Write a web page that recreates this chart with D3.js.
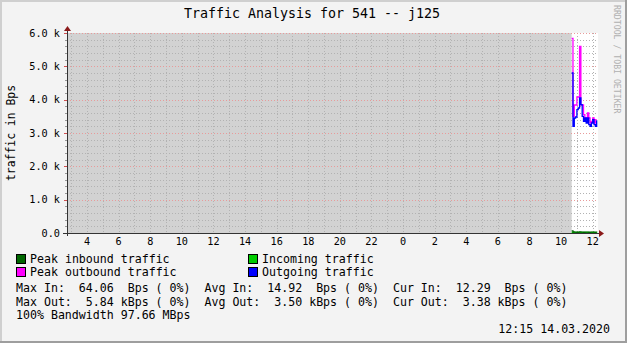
<!DOCTYPE html>
<html>
<head>
<meta charset="utf-8">
<script src="https://cdn.jsdelivr.net/npm/d3@7"></script>
<style>
  body { margin: 0; background: #f3f3f3; }
  svg { display: block; }
  text { font-family: "DejaVu Sans Mono", monospace; fill: #000; }
</style>
</head>
<body>
<svg id="chart" width="627" height="343"></svg>
<script>
// chart data
const title = "Traffic Analysis for 541 -- j125";
const yLabel = "traffic in Bps";
const watermark = "RRDTOOL / TOBI OETIKER";
const yTicks = [0, 1000, 2000, 3000, 4000, 5000, 6000];
const yTickLabels = ["0.0", "1.0 k", "2.0 k", "3.0 k", "4.0 k", "5.0 k", "6.0 k"];
const viewStart = new Date(2020, 2, 13, 2, 44);
const viewEnd = new Date(2020, 2, 14, 12, 20);
const unknownEnd = new Date(2020, 2, 14, 10, 40);

const sampleTimes = ["10:40", "10:45", "10:50", "10:55", "11:00", "11:05", "11:10", "11:15", "11:20", "11:25",
  "11:30", "11:35", "11:40", "11:45", "11:50", "11:55", "12:00", "12:05", "12:10", "12:15"];
const outgoing = [4800, 3200, 3450, 3480, 3700, 3750, 4050, 3850, 3500, 3350,
  3450, 3300, 3450, 3250, 3200, 3300, 3400, 3250, 3200, 3380];
const peakOutbound = [5840, 3500, 3840, 3840, 4080, 4080, 5600, 3840, 3840, 3550,
  3450, 3450, 3600, 3450, 3300, 3350, 3450, 3300, 3400, 3400];
const incoming = [18, 15, 14, 16, 13, 15, 17, 14, 15, 13,
  16, 14, 15, 13, 14, 16, 15, 14, 13, 12];
const peakInbound = [64, 30, 25, 28, 22, 26, 30, 24, 27, 22,
  28, 24, 26, 22, 25, 28, 26, 24, 22, 20];

const legendItems = [
  { label: "Peak inbound traffic", color: "#006600" },
  { label: "Incoming traffic", color: "#00cc00" },
  { label: "Peak outbound traffic", color: "#ff00ff" },
  { label: "Outgoing traffic", color: "#0000ff" }
];
const statsLines = [
  "Max In:  64.06  Bps ( 0%)  Avg In:  14.92  Bps ( 0%)  Cur In:  12.29  Bps ( 0%)",
  "Max Out:  5.84 kBps ( 0%)  Avg Out:  3.50 kBps ( 0%)  Cur Out:  3.38 kBps ( 0%)",
  "100% Bandwidth 97.66 MBps"
];
const stamp = "12:15 14.03.2020";

document.addEventListener("DOMContentLoaded", function () {
  drawChart();
});

function drawChart() {
  const svg = d3.select("#chart");
  const width = 627, height = 343;
  const plot = { left: 67, right: 598, top: 33, bottom: 233 };

  const x = d3.scaleTime().domain([viewStart, viewEnd]).range([plot.left, plot.right]);
  const y = d3.scaleLinear().domain([0, 6000]).range([plot.bottom, plot.top]);

  const parseT = d3.timeParse("%Y-%m-%d %H:%M");
  const times = sampleTimes.map(t => parseT("2020-03-14 " + t));

  // frame
  svg.append("rect").attr("width", width).attr("height", height).attr("fill", "#f3f3f3");
  svg.append("path").attr("d", `M0,${height} V0 H${width}`).attr("fill", "none")
    .attr("stroke", "#cfcfcf").attr("stroke-width", 4);
  svg.append("path").attr("d", `M0,${height} H${width} V0`).attr("fill", "none")
    .attr("stroke", "#9e9e9e").attr("stroke-width", 4);

  // canvas + unknown area
  svg.append("rect").attr("x", plot.left).attr("y", plot.top)
    .attr("width", plot.right - plot.left).attr("height", plot.bottom - plot.top).attr("fill", "#fff");
  svg.append("rect").attr("x", x(viewStart)).attr("y", plot.top)
    .attr("width", x(unknownEnd) - x(viewStart)).attr("height", plot.bottom - plot.top).attr("fill", "#d2d2d2");

  // grid
  const grid = svg.append("g").attr("shape-rendering", "crispEdges");
  const hours = d3.timeHour.range(viewStart, viewEnd);
  grid.selectAll("line.vg").data(hours).join("line")
    .attr("x1", d => Math.round(x(d)) + 0.5).attr("x2", d => Math.round(x(d)) + 0.5)
    .attr("y1", plot.top).attr("y2", plot.bottom)
    .attr("stroke", "#b2b2b2").attr("stroke-dasharray", "1,2");
  const minorY = d3.range(200, 6001, 200).filter(v => v % 1000 !== 0);
  grid.selectAll("line.hg").data(minorY).join("line")
    .attr("x1", plot.left).attr("x2", plot.right)
    .attr("y1", d => Math.round(y(d)) + 0.5).attr("y2", d => Math.round(y(d)) + 0.5)
    .attr("stroke", "#b2b2b2").attr("stroke-dasharray", "1,2");
  grid.selectAll("line.mg").data(yTicks.slice(1)).join("line")
    .attr("x1", plot.left).attr("x2", plot.right)
    .attr("y1", d => Math.round(y(d)) + 0.5).attr("y2", d => Math.round(y(d)) + 0.5)
    .attr("stroke", "#e89a9a").attr("stroke-dasharray", "1,2");

  // y ticks
  grid.selectAll("line.mt").data(minorY).join("line")
    .attr("x1", plot.left - 2).attr("x2", plot.left)
    .attr("y1", d => Math.round(y(d)) + 0.5).attr("y2", d => Math.round(y(d)) + 0.5)
    .attr("stroke", "#999");
  grid.selectAll("line.Mt").data(yTicks).join("line")
    .attr("x1", plot.left - 3).attr("x2", plot.left)
    .attr("y1", d => Math.round(y(d)) + 0.5).attr("y2", d => Math.round(y(d)) + 0.5)
    .attr("stroke", "#d05050");

  // data lines
  const line = d3.line().x((d, i) => x(times[i])).y(d => y(d)).curve(d3.curveStepAfter);
  const series = [
    { values: peakOutbound, color: "#ff00ff" },
    { values: outgoing, color: "#0000ff" },
    { values: incoming, color: "#00cc00" },
    { values: peakInbound, color: "#006600" }
  ];
  svg.append("g").selectAll("path").data(series).join("path")
    .attr("d", d => line(d.values))
    .attr("fill", "none").attr("stroke", d => d.color).attr("stroke-width", 1.3);

  // axes
  svg.append("line").attr("x1", plot.left - 4).attr("x2", plot.right + 2)
    .attr("y1", plot.bottom + 0.5).attr("y2", plot.bottom + 0.5).attr("stroke", "#333");
  svg.append("line").attr("x1", plot.left + 0.5).attr("x2", plot.left + 0.5)
    .attr("y1", plot.bottom + 3).attr("y2", plot.top - 3).attr("stroke", "#333");
  svg.append("path")
    .attr("d", `M${plot.right + 1},${plot.bottom - 3} L${plot.right + 6},${plot.bottom + 0.5} L${plot.right + 1},${plot.bottom + 4} Z`)
    .attr("fill", "#8b1a1a");
  svg.append("path")
    .attr("d", `M${plot.left - 3},${plot.top - 2} L${plot.left + 0.5},${plot.top - 7} L${plot.left + 4},${plot.top - 2} Z`)
    .attr("fill", "#8b1a1a");

  // tick labels
  svg.append("g").selectAll("text").data(yTicks).join("text")
    .attr("x", plot.left - 7).attr("y", d => y(d) + 3.5)
    .attr("text-anchor", "end").attr("font-size", "10.2px")
    .text((d, i) => yTickLabels[i]);
  const labelHours = d3.timeHour.every(2).range(viewStart, viewEnd);
  svg.append("g").selectAll("text").data(labelHours).join("text")
    .attr("x", d => x(d)).attr("y", plot.bottom + 12)
    .attr("text-anchor", "middle").attr("font-size", "10.2px")
    .text(d => d3.timeFormat("%-H")(d));

  // titles
  svg.append("text").attr("x", 312).attr("y", 18).attr("text-anchor", "middle")
    .attr("font-size", "13.3px").text(title);
  svg.append("text").attr("transform", `translate(15,${(plot.top + plot.bottom) / 2}) rotate(-90)`)
    .attr("text-anchor", "middle").attr("font-size", "11.4px").text(yLabel);
  svg.append("text").attr("transform", "translate(614,5) rotate(90)")
    .attr("font-size", "8.2px").style("fill", "#b0b0b0").text(watermark);

  // legend
  const lg = svg.append("g").selectAll("g").data(legendItems).join("g")
    .attr("transform", (d, i) => `translate(${i % 2 ? 248 : 16},${i < 2 ? 254 : 267})`);
  lg.append("rect").attr("x", 0.5).attr("y", 0.5).attr("width", 9).attr("height", 9)
    .attr("fill", d => d.color).attr("stroke", "#000");
  lg.append("text").attr("x", 14).attr("y", 9).attr("font-size", "11.6px").text(d => d.label);

  svg.append("g").selectAll("text").data(statsLines).join("text")
    .attr("x", 16).attr("y", (d, i) => 292 + i * 13.5)
    .attr("font-size", "11.6px").attr("xml:space", "preserve").style("white-space", "pre")
    .text(d => d);
  svg.append("text").attr("x", 610).attr("y", 333).attr("text-anchor", "end")
    .attr("font-size", "11.6px").text(stamp);
}
</script>
</body>
</html>
